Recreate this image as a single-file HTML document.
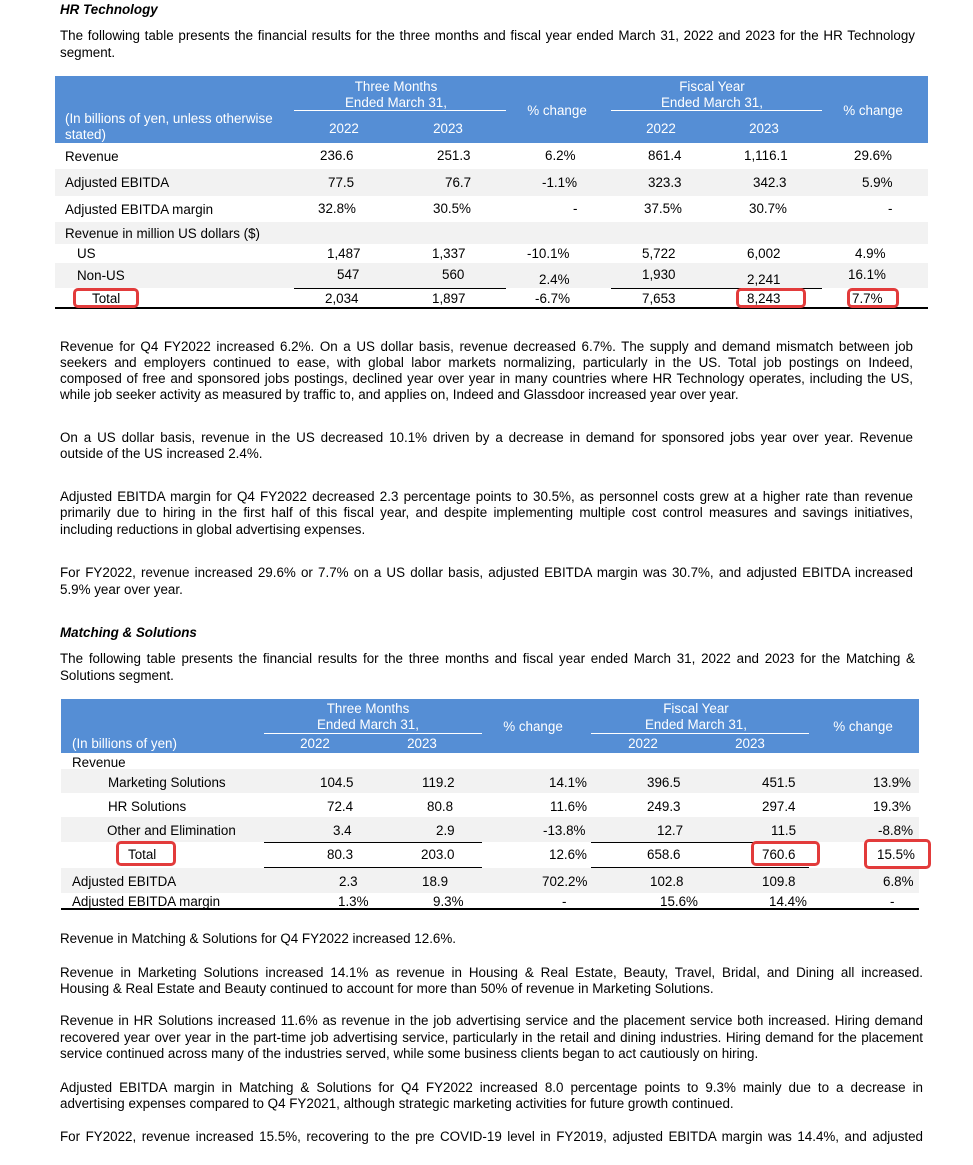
<!DOCTYPE html>
<html>
<head>
<meta charset="utf-8">
<style>
html,body{margin:0;padding:0;background:#fff;}
body{width:973px;height:1165px;position:relative;overflow:hidden;font-family:"Liberation Sans",Arial,sans-serif;color:#000;}
.t{position:absolute;white-space:nowrap;font-size:13.4px;line-height:16px;margin-top:1px;}
.w{color:#fff;}
.c{text-align:center;width:200px;}
.j{position:absolute;white-space:nowrap;font-size:13.4px;line-height:16px;text-align:justify;text-align-last:justify;margin-top:1px;}
.l{position:absolute;white-space:nowrap;font-size:13.4px;line-height:16px;margin-top:1px;}
.h{position:absolute;white-space:nowrap;font-size:13.4px;line-height:16px;font-weight:bold;font-style:italic;margin-top:1px;}
.r{position:absolute;}
.blue{background:#558ed5;}
.gray{background:#f2f2f2;}
.k{background:#000;}
.wl{background:#fff;}
.box{position:absolute;border:3px solid #e23b3b;border-radius:5px;box-sizing:border-box;}
</style>
</head>
<body>

<!-- HR Technology heading -->
<div class="h" style="left:60px;top:1px;">HR Technology</div>
<div class="j" style="left:60px;top:27px;width:855px;">The following table presents the financial results for the three months and fiscal year ended March 31, 2022 and 2023 for the HR Technology</div>
<div class="l" style="left:60px;top:44px;">segment.</div>

<!-- Table 1 backgrounds -->
<div class="r blue" style="left:55px;top:76px;width:873px;height:67px;"></div>
<div class="r wl" style="left:294px;top:110px;width:212px;height:1px;"></div>
<div class="r wl" style="left:611px;top:110px;width:211px;height:1px;"></div>
<div class="r gray" style="left:55px;top:169px;width:873px;height:27px;"></div>
<div class="r gray" style="left:55px;top:222px;width:873px;height:22px;"></div>
<div class="r gray" style="left:55px;top:263px;width:873px;height:25px;"></div>
<div class="r k" style="left:294px;top:288px;width:212px;height:1px;"></div>
<div class="r k" style="left:611px;top:288px;width:211px;height:1px;"></div>
<div class="r k" style="left:55px;top:307px;width:873px;height:2px;"></div>

<!-- Table 1 header text -->
<div class="t w c" style="left:296px;top:78px;">Three Months</div>
<div class="t w c" style="left:296px;top:94px;">Ended March 31,</div>
<div class="t w c" style="left:457px;top:102px;">% change</div>
<div class="t w c" style="left:612px;top:78px;">Fiscal Year</div>
<div class="t w c" style="left:612px;top:94px;">Ended March 31,</div>
<div class="t w c" style="left:773px;top:102px;">% change</div>
<div class="t w" style="left:65px;top:110px;">(In billions of yen, unless otherwise</div>
<div class="t w" style="left:65px;top:126px;">stated)</div>
<div class="t w c" style="left:244px;top:120px;">2022</div>
<div class="t w c" style="left:348px;top:120px;">2023</div>
<div class="t w c" style="left:561px;top:120px;">2022</div>
<div class="t w c" style="left:664px;top:120px;">2023</div>

<!-- Table 1 rows -->
<div class="t" style="left:65px;top:148px;">Revenue</div>
<div class="t" style="left:320px;top:147px;">236.6</div>
<div class="t" style="left:437px;top:147px;">251.3</div>
<div class="t" style="left:545px;top:147px;">6.2%</div>
<div class="t" style="left:648px;top:147px;">861.4</div>
<div class="t" style="left:744px;top:147px;">1,116.1</div>
<div class="t" style="left:854px;top:147px;">29.6%</div>

<div class="t" style="left:65px;top:174px;">Adjusted EBITDA</div>
<div class="t" style="left:328px;top:174px;">77.5</div>
<div class="t" style="left:445px;top:174px;">76.7</div>
<div class="t" style="left:542px;top:174px;">-1.1%</div>
<div class="t" style="left:648px;top:174px;">323.3</div>
<div class="t" style="left:753px;top:174px;">342.3</div>
<div class="t" style="left:862px;top:174px;">5.9%</div>

<div class="t" style="left:65px;top:201px;">Adjusted EBITDA margin</div>
<div class="t" style="left:318px;top:200px;">32.8%</div>
<div class="t" style="left:433px;top:200px;">30.5%</div>
<div class="t" style="left:573px;top:200px;">-</div>
<div class="t" style="left:644px;top:200px;">37.5%</div>
<div class="t" style="left:749px;top:200px;">30.7%</div>
<div class="t" style="left:888px;top:200px;">-</div>

<div class="t" style="left:65px;top:225px;">Revenue in million US dollars ($)</div>

<div class="t" style="left:77px;top:245px;">US</div>
<div class="t" style="left:327px;top:245px;">1,487</div>
<div class="t" style="left:432px;top:245px;">1,337</div>
<div class="t" style="left:527px;top:245px;">-10.1%</div>
<div class="t" style="left:642px;top:245px;">5,722</div>
<div class="t" style="left:747px;top:245px;">6,002</div>
<div class="t" style="left:855px;top:245px;">4.9%</div>

<div class="t" style="left:77px;top:267px;">Non-US</div>
<div class="t" style="left:337px;top:266px;">547</div>
<div class="t" style="left:442px;top:266px;">560</div>
<div class="t" style="left:539px;top:271px;">2.4%</div>
<div class="t" style="left:642px;top:266px;">1,930</div>
<div class="t" style="left:747px;top:271px;">2,241</div>
<div class="t" style="left:848px;top:266px;">16.1%</div>

<div class="t" style="left:92px;top:290px;">Total</div>
<div class="t" style="left:325px;top:290px;">2,034</div>
<div class="t" style="left:432px;top:290px;">1,897</div>
<div class="t" style="left:535px;top:290px;">-6.7%</div>
<div class="t" style="left:642px;top:290px;">7,653</div>
<div class="t" style="left:747px;top:290px;">8,243</div>
<div class="t" style="left:852px;top:290px;">7.7%</div>

<div class="box" style="left:73px;top:288px;width:66px;height:20px;"></div>
<div class="box" style="left:736px;top:288px;width:70px;height:20px;"></div>
<div class="box" style="left:847px;top:288px;width:52px;height:20px;"></div>

<!-- Paragraphs HR -->
<div class="j" style="left:60px;top:338px;width:853px;">Revenue for Q4 FY2022 increased 6.2%. On a US dollar basis, revenue decreased 6.7%. The supply and demand mismatch between job</div>
<div class="j" style="left:60px;top:354px;width:853px;">seekers and employers continued to ease, with global labor markets normalizing, particularly in the US. Total job postings on Indeed,</div>
<div class="j" style="left:60px;top:370px;width:853px;">composed of free and sponsored jobs postings, declined year over year in many countries where HR Technology operates, including the US,</div>
<div class="l" style="left:60px;top:386px;">while job seeker activity as measured by traffic to, and applies on, Indeed and Glassdoor increased year over year.</div>

<div class="j" style="left:60px;top:429px;width:853px;">On a US dollar basis, revenue in the US decreased 10.1% driven by a decrease in demand for sponsored jobs year over year. Revenue</div>
<div class="l" style="left:60px;top:445px;">outside of the US increased 2.4%.</div>

<div class="j" style="left:60px;top:488px;width:853px;">Adjusted EBITDA margin for Q4 FY2022 decreased 2.3 percentage points to 30.5%, as personnel costs grew at a higher rate than revenue</div>
<div class="j" style="left:60px;top:504px;width:853px;">primarily due to hiring in the first half of this fiscal year, and despite implementing multiple cost control measures and savings initiatives,</div>
<div class="l" style="left:60px;top:521px;">including reductions in global advertising expenses.</div>

<div class="j" style="left:60px;top:564px;width:853px;">For FY2022, revenue increased 29.6% or 7.7% on a US dollar basis, adjusted EBITDA margin was 30.7%, and adjusted EBITDA increased</div>
<div class="l" style="left:60px;top:581px;">5.9% year over year.</div>

<!-- Matching & Solutions -->
<div class="h" style="left:60px;top:624px;">Matching &amp; Solutions</div>
<div class="j" style="left:60px;top:650px;width:855px;">The following table presents the financial results for the three months and fiscal year ended March 31, 2022 and 2023 for the Matching &amp;</div>
<div class="l" style="left:60px;top:667px;">Solutions segment.</div>

<!-- Table 2 backgrounds -->
<div class="r blue" style="left:61px;top:699px;width:858px;height:54px;"></div>
<div class="r wl" style="left:264px;top:733px;width:218px;height:1px;"></div>
<div class="r wl" style="left:591px;top:733px;width:218px;height:1px;"></div>
<div class="r gray" style="left:61px;top:769px;width:858px;height:24px;"></div>
<div class="r gray" style="left:61px;top:817px;width:858px;height:25px;"></div>
<div class="r gray" style="left:61px;top:868px;width:858px;height:25px;"></div>
<div class="r k" style="left:264px;top:842px;width:218px;height:1px;"></div>
<div class="r k" style="left:591px;top:842px;width:218px;height:1px;"></div>
<div class="r k" style="left:264px;top:867px;width:218px;height:1px;"></div>
<div class="r k" style="left:591px;top:867px;width:218px;height:1px;"></div>
<div class="r k" style="left:61px;top:908px;width:858px;height:2px;"></div>

<!-- Table 2 header text -->
<div class="t w c" style="left:268px;top:700px;">Three Months</div>
<div class="t w c" style="left:268px;top:716px;">Ended March 31,</div>
<div class="t w" style="left:72px;top:735px;">(In billions of yen)</div>
<div class="t w c" style="left:215px;top:735px;">2022</div>
<div class="t w c" style="left:322px;top:735px;">2023</div>
<div class="t w c" style="left:433px;top:718px;">% change</div>
<div class="t w c" style="left:596px;top:700px;">Fiscal Year</div>
<div class="t w c" style="left:596px;top:716px;">Ended March 31,</div>
<div class="t w c" style="left:543px;top:735px;">2022</div>
<div class="t w c" style="left:650px;top:735px;">2023</div>
<div class="t w c" style="left:763px;top:718px;">% change</div>

<!-- Table 2 rows -->
<div class="t" style="left:72px;top:754px;">Revenue</div>

<div class="t" style="left:108px;top:774px;">Marketing Solutions</div>
<div class="t" style="left:320px;top:774px;">104.5</div>
<div class="t" style="left:422px;top:774px;">119.2</div>
<div class="t" style="left:549px;top:774px;">14.1%</div>
<div class="t" style="left:647px;top:774px;">396.5</div>
<div class="t" style="left:762px;top:774px;">451.5</div>
<div class="t" style="left:873px;top:774px;">13.9%</div>

<div class="t" style="left:108px;top:798px;">HR Solutions</div>
<div class="t" style="left:327px;top:798px;">72.4</div>
<div class="t" style="left:427px;top:798px;">80.8</div>
<div class="t" style="left:550px;top:798px;">11.6%</div>
<div class="t" style="left:647px;top:798px;">249.3</div>
<div class="t" style="left:762px;top:798px;">297.4</div>
<div class="t" style="left:873px;top:798px;">19.3%</div>

<div class="t" style="left:107px;top:822px;">Other and Elimination</div>
<div class="t" style="left:333px;top:822px;">3.4</div>
<div class="t" style="left:436px;top:822px;">2.9</div>
<div class="t" style="left:543px;top:822px;">-13.8%</div>
<div class="t" style="left:657px;top:822px;">12.7</div>
<div class="t" style="left:771px;top:822px;">11.5</div>
<div class="t" style="left:878px;top:822px;">-8.8%</div>

<div class="t" style="left:128px;top:846px;">Total</div>
<div class="t" style="left:327px;top:846px;">80.3</div>
<div class="t" style="left:421px;top:846px;">203.0</div>
<div class="t" style="left:549px;top:846px;">12.6%</div>
<div class="t" style="left:647px;top:846px;">658.6</div>
<div class="t" style="left:762px;top:846px;">760.6</div>
<div class="t" style="left:877px;top:846px;">15.5%</div>

<div class="t" style="left:72px;top:873px;">Adjusted EBITDA</div>
<div class="t" style="left:339px;top:873px;">2.3</div>
<div class="t" style="left:422px;top:873px;">18.9</div>
<div class="t" style="left:542px;top:873px;">702.2%</div>
<div class="t" style="left:650px;top:873px;">102.8</div>
<div class="t" style="left:762px;top:873px;">109.8</div>
<div class="t" style="left:883px;top:873px;">6.8%</div>

<div class="t" style="left:72px;top:893px;">Adjusted EBITDA margin</div>
<div class="t" style="left:338px;top:893px;">1.3%</div>
<div class="t" style="left:433px;top:893px;">9.3%</div>
<div class="t" style="left:562px;top:893px;">-</div>
<div class="t" style="left:660px;top:893px;">15.6%</div>
<div class="t" style="left:769px;top:893px;">14.4%</div>
<div class="t" style="left:890px;top:893px;">-</div>

<div class="box" style="left:116px;top:841px;width:60px;height:25px;"></div>
<div class="box" style="left:751px;top:841px;width:69px;height:25px;"></div>
<div class="box" style="left:864px;top:839px;width:67px;height:30px;"></div>

<!-- Paragraphs M&S -->
<div class="l" style="left:60px;top:930px;">Revenue in Matching &amp; Solutions for Q4 FY2022 increased 12.6%.</div>

<div class="j" style="left:60px;top:964px;width:863px;">Revenue in Marketing Solutions increased 14.1% as revenue in Housing &amp; Real Estate, Beauty, Travel, Bridal, and Dining all increased.</div>
<div class="l" style="left:60px;top:980px;">Housing &amp; Real Estate and Beauty continued to account for more than 50% of revenue in Marketing Solutions.</div>

<div class="j" style="left:60px;top:1012px;width:863px;">Revenue in HR Solutions increased 11.6% as revenue in the job advertising service and the placement service both increased. Hiring demand</div>
<div class="j" style="left:60px;top:1029px;width:863px;">recovered year over year in the part-time job advertising service, particularly in the retail and dining industries. Hiring demand for the placement</div>
<div class="l" style="left:60px;top:1045px;">service continued across many of the industries served, while some business clients began to act cautiously on hiring.</div>

<div class="j" style="left:60px;top:1079px;width:863px;">Adjusted EBITDA margin in Matching &amp; Solutions for Q4 FY2022 increased 8.0 percentage points to 9.3% mainly due to a decrease in</div>
<div class="l" style="left:60px;top:1095px;">advertising expenses compared to Q4 FY2021, although strategic marketing activities for future growth continued.</div>

<div class="j" style="left:60px;top:1128px;width:863px;">For FY2022, revenue increased 15.5%, recovering to the pre COVID-19 level in FY2019, adjusted EBITDA margin was 14.4%, and adjusted</div>

</body>
</html>
